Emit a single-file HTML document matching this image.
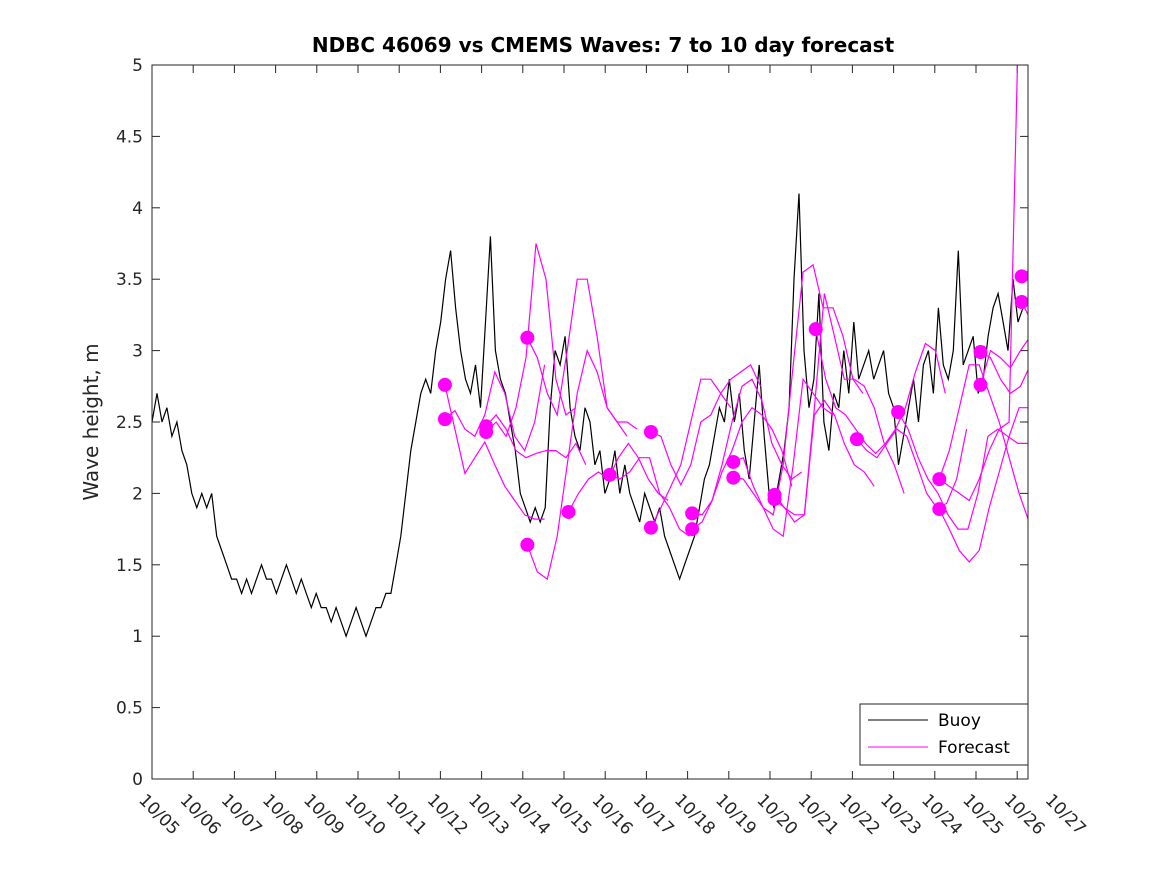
<!DOCTYPE html>
<html><head><meta charset="utf-8"><style>
body{margin:0;background:#fff;font-family:"Liberation Sans",sans-serif}
svg text{font-family:"DejaVu Sans","Liberation Sans",sans-serif}
</style></head><body>
<svg id="chart" width="1167" height="875" xmlns="http://www.w3.org/2000/svg">
<rect width="1167" height="875" fill="#fff"/>
<text x="603" y="52" text-anchor="middle" font-size="20" font-weight="bold" fill="#000">NDBC 46069 vs CMEMS Waves: 7 to 10 day forecast</text>
<text transform="translate(98,422) rotate(-90)" text-anchor="middle" font-size="20" fill="#262626">Wave height, m</text>
<defs><clipPath id="clip"><rect x="152" y="65" width="876" height="714"/></clipPath></defs>
<g id="axes"></g>
<g id="marks" clip-path="url(#clip)"></g>
<rect x="152" y="65" width="876" height="714" fill="none" stroke="#262626" stroke-width="1"/>
<g>
<rect x="860" y="704" width="168" height="61" fill="#fff" stroke="#262626"/>
<line x1="868" y1="720" x2="928" y2="720" stroke="#000"/>
<text x="938" y="726" font-size="17" fill="#000">Buoy</text>
<line x1="868" y1="747" x2="928" y2="747" stroke="#f0f"/>
<text x="938" y="753" font-size="17" fill="#000">Forecast</text>
</g>
</svg>
<script>
const dateLabels=["10/05","10/06","10/07","10/08","10/09","10/10","10/11","10/12","10/13","10/14","10/15","10/16","10/17","10/18","10/19","10/20","10/21","10/22","10/23","10/24","10/25","10/26","10/27"];
const yTicks=[0,0.5,1,1.5,2,2.5,3,3.5,4,4.5,5];
const buoyStep=0.1208;
const buoy=[2.5,2.7,2.5,2.6,2.4,2.5,2.3,2.2,
2.0,1.9,2.0,1.9,2.0,1.7,1.6,1.5,
1.4,1.4,1.3,1.4,1.3,1.4,1.5,1.4,
1.4,1.3,1.4,1.5,1.4,1.3,1.4,1.3,
1.2,1.3,1.2,1.2,1.1,1.2,1.1,1.0,
1.1,1.2,1.1,1.0,1.1,1.2,1.2,1.3,
1.3,1.5,1.7,2.0,2.3,2.5,2.7,2.8,
2.7,3.0,3.2,3.5,3.7,3.3,3.0,2.8,
2.7,2.9,2.6,3.2,3.8,3.0,2.8,2.7,
2.5,2.3,2.0,1.9,1.8,1.9,1.8,1.9,
2.6,3.0,2.9,3.1,2.6,2.4,2.3,2.6,
2.5,2.2,2.3,2.0,2.1,2.3,2.0,2.2,
2.0,1.9,1.8,2.0,1.9,1.8,1.9,1.7,
1.6,1.5,1.4,1.5,1.6,1.7,1.9,2.1,
2.2,2.4,2.6,2.5,2.8,2.5,2.7,2.3,
2.1,2.5,2.9,2.4,2.0,1.9,2.1,2.3,
2.6,3.5,4.1,3.0,2.6,2.8,3.4,2.5,
2.3,2.7,2.6,3.0,2.7,3.2,2.8,2.9,
3.0,2.8,2.9,3.0,2.7,2.6,2.2,2.4,
2.6,2.8,2.5,2.9,3.0,2.7,3.3,2.9,
2.8,3.0,3.7,2.9,3.0,3.1,2.7,2.8,
3.1,3.3,3.4,3.2,3.0,3.5,3.2,3.3];
const fcStep=0.242;
const fcStarts=[7.11,7.11,8.11,8.11,9.11,9.11,10.11,11.11,12.11,12.11,13.11,13.11,14.11,14.11,15.11,15.11,16.11,17.11,18.11,19.11,19.11,20.11,20.11,21.11,21.11,19.11];
const fcValues=[
[2.76,2.45,2.14,2.25,2.36,2.2,2.05,1.95,1.85,1.82,1.82],
[2.52,2.58,2.45,2.4,2.55,2.85,2.7,2.4,2.3,2.5,2.9],
[2.47,2.55,2.45,2.3,2.25,2.28,2.3,2.3,2.25,2.35,2.2],
[2.43,2.5,2.4,2.6,2.95,3.75,3.5,2.8,2.55,2.6],
[3.09,2.95,2.7,2.55,3.0,3.5,3.5,3.1,2.6,2.5,2.4],
[1.64,1.45,1.4,1.7,2.2,2.7,3.0,2.85,2.6,2.5,2.5,2.45],
[1.87,2.0,2.1,2.15,2.1,2.25,2.35,2.25,2.1,2.0,1.95],
[2.13,2.1,2.15,2.25,2.25,2.0,1.9,1.75,1.7],
[2.43,2.4,2.2,2.06,2.2,2.5,2.55,2.7,2.8,2.85,2.9,2.75],
[1.76,1.9,2.05,2.2,2.5,2.8,2.8,2.7,2.6],
[1.86,1.85,1.95,2.2,2.5,2.75,2.8,2.65,2.35,2.2,2.1,2.15],
[1.75,1.8,1.95,2.15,2.3,2.5,2.6,2.55,2.45,2.3,2.05],
[2.22,2.25,2.05,1.9,1.85,2.2,2.9,3.55,3.6,3.3,3.3,3.1,2.8,2.7],
[2.11,2.1,2.0,1.9,1.75,1.7,2.2,2.8,2.7,2.6,2.55],
[1.99,1.9,1.85,1.85,2.6,3.4,3.1,2.8,2.8,2.75,2.6,2.35,2.2,2.0],
[1.96,1.9,1.8,1.85,2.55,2.65,2.55,2.35,2.2,2.15,2.05],
[3.15,2.8,2.6,2.55,2.45,2.35,2.28,2.35,2.45,2.6,2.85,3.05,3.0,2.7],
[2.38,2.3,2.25,2.35,2.45,2.4,2.2,2.0,1.9,1.93,2.1,2.45],
[2.57,2.45,2.25,2.1,2.0,1.85,1.75,1.75,2.0,2.4,2.45,2.4,2.35,2.35],
[2.1,2.3,2.6,2.9,2.9,2.7,2.5,2.25,2.0,1.8,1.65,1.68,2.25],
[1.89,1.75,1.6,1.52,1.6,1.9,2.15,2.4,2.6,2.6],
[2.99,2.95,2.8,2.7,2.75,2.9,3.05,3.0,2.85,2.65],
[2.76,3.0,2.95,2.88,3.0,3.1,3.0,2.8,2.75,2.6],
[3.52,3.58,3.6,3.55,3.3],
[3.34,3.2,3.05,2.95],
[2.1,2.05,2.0,1.95,2.1,2.3,2.45,2.5,5.5,5.0,4.2]
];
const NS="http://www.w3.org/2000/svg";
const X0=152,X1=1028,Y0=779,Y1=65,DAY=41.2;
function xs(d){return X0+DAY*d;}
function ys(v){return Y0-(Y0-Y1)*v/5;}
function mk(tag,attrs,parent){const e=document.createElementNS(NS,tag);for(const k in attrs)e.setAttribute(k,attrs[k]);parent.appendChild(e);return e;}
const axes=document.getElementById('axes');
const marks=document.getElementById('marks');
dateLabels.forEach((lab,i)=>{
  const x=xs(i);
  if(x<=X1){
    const t1=mk('line',{x1:x,y1:Y0,x2:x,y2:Y0-8,stroke:'#262626'},axes);
    
    
    const t2=mk('line',{x1:x,y1:Y1,x2:x,y2:Y1+8,stroke:'#262626'},axes);
    
    
  }
  const tx=mk('text',{transform:`translate(${x-14},${Y0+22}) rotate(45)`,'font-size':17,fill:'#262626'},axes);
  tx.textContent=lab;
  
  
});
yTicks.forEach(v=>{
  const y=ys(v);
  const l1=mk('line',{x1:X0,y1:y,x2:X0+8,y2:y,stroke:'#262626'},axes);
  
  
  const l2=mk('line',{x1:X1,y1:y,x2:X1-8,y2:y,stroke:'#262626'},axes);
  
  
  const t=mk('text',{x:X0-9,y:y+6,'text-anchor':'end','font-size':17,fill:'#262626'},axes);
  t.textContent=String(v);
  
  
});
const bp=buoy.map((v,i)=>xs(i*buoyStep).toFixed(1)+','+ys(v).toFixed(1)).join(' ');
const bl=mk('polyline',{points:bp,fill:'none',stroke:'#000','stroke-width':1.2},marks);


fcValues.forEach((vals,k)=>{
  const s=fcStarts[k];
  const pts=vals.map((v,i)=>xs(s+i*fcStep).toFixed(1)+','+ys(v).toFixed(1)).join(' ');
  const pl=mk('polyline',{points:pts,fill:'none',stroke:'#f0f','stroke-width':1.2},marks);
  
  
  if(k<25){
    const c=mk('circle',{cx:xs(s),cy:ys(vals[0]),r:7,fill:'#f0f'},marks);
    
    
  }
});
</script>
</body></html>
